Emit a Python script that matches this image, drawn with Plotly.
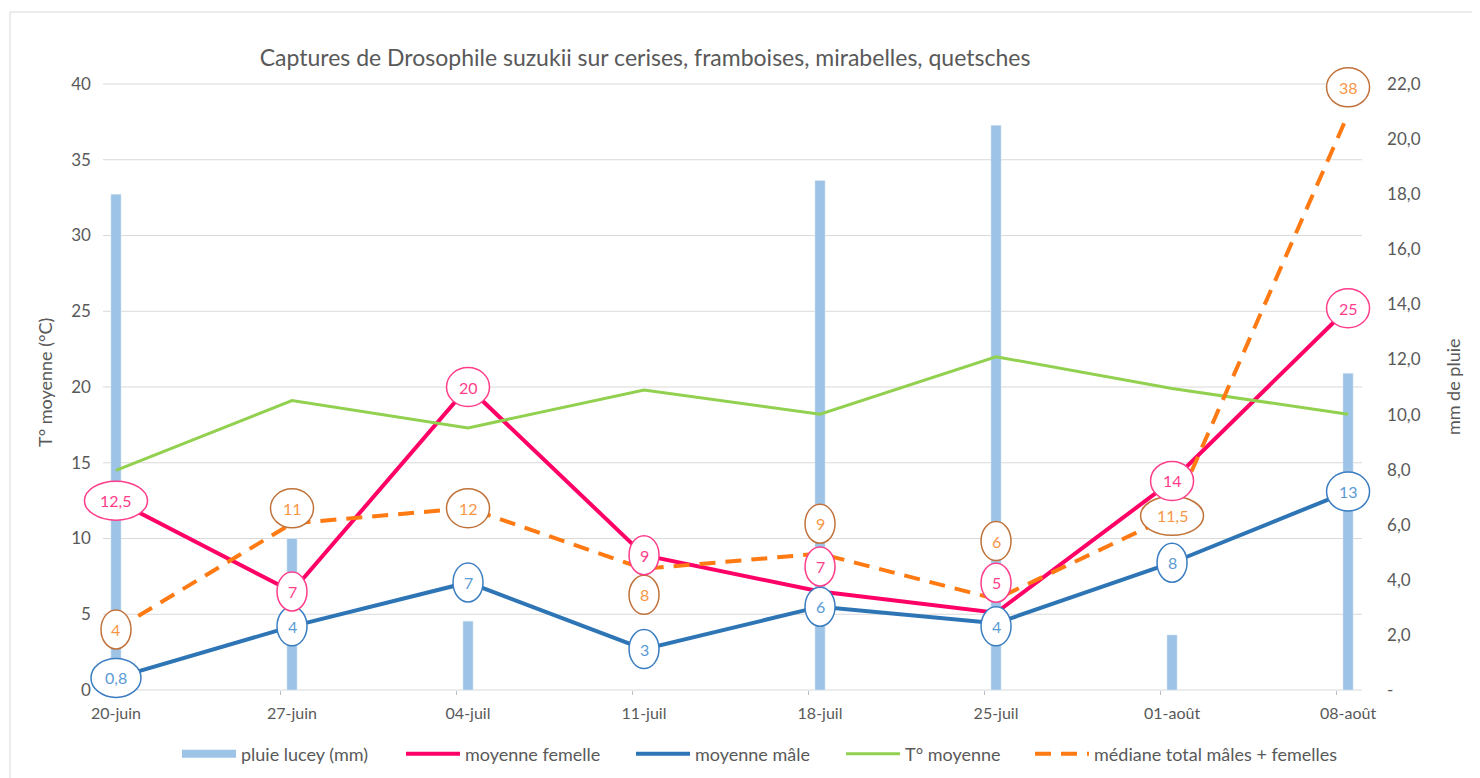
import plotly.graph_objects as go

# ---------------- data ----------------
dates = ["20-juin", "27-juin", "04-juil", "11-juil", "18-juil", "25-juil", "01-août", "08-août"]
pluie_mm = [18.0, 5.5, 2.5, 0.0, 18.5, 20.5, 2.0, 11.5]
moy_femelle = [12.5, 6.5, 20.0, 8.9, 6.5, 5.1, 13.8, 25.2]
moy_male = [0.8, 4.2, 7.1, 2.7, 5.5, 4.4, 8.4, 13.1]
temp_moy = [14.5, 19.1, 17.3, 19.8, 18.2, 22.0, 19.9, 18.2]
mediane = [4, 11, 12, 8, 9, 6, 11.5, 38]

lbl_femelle = ["12,5", "7", "20", "9", "7", "5", "14", "25"]
lbl_male = ["0,8", "4", "7", "3", "6", "4", "8", "13"]
lbl_mediane = ["4", "11", "12", "8", "9", "6", "11,5", "38"]

left_ticks = [0, 5, 10, 15, 20, 25, 30, 35, 40]
right_ticks = [0, 2, 4, 6, 8, 10, 12, 14, 16, 18, 20, 22]
right_ticktext = ["-" if v == 0 else f"{v:.1f}".replace(".", ",") for v in right_ticks]

# ---------------- styles / geometry ----------------
FONT = "Lato, 'Open Sans', sans-serif"
GREY = "#595959"
C_BAR = "#9DC3E6"
C_PINK = "#FF0066"
C_BLUE = "#2E75B6"
C_GREEN = "#92D050"
C_ORANGE = "#FF7A12"
C_GRID = "#D9D9D9"

# plot area enlarged so the label ellipses are not clipped;
# axes are placed at the visible frame positions
X_RANGE = [-0.2045, 7.136]
Y_LEFT_RANGE = [-0.66, 41.32]
Y_RIGHT_RANGE = [-0.363, 22.726]
FRAME_X0, FRAME_X1 = 0.0178, 0.9923
XAXIS_POS = 0.0157

# label offsets (pixels, positive = up)
off_femelle = [0, 0, 0, 0, 25, 30, 0, 0]
off_male = [0, 0, 0, 0, 0, -3, 0, 0]
off_mediane = [0, 15, 0, -26, 30, 58, 0, 27]
ell_width = {1: 30, 2: 43, 3: 50, 4: 63}
ELL_H = 39

x_idx = list(range(len(dates)))

fig = go.Figure()

fig.add_trace(go.Bar(
    x=x_idx, y=pluie_mm, name="pluie lucey (mm)", marker_color=C_BAR,
    width=0.058, yaxis="y", showlegend=False,
))
series = [
    ("pluie lucey (mm)", [None], dict(color=C_BAR, width=8), "legend"),
    ("moyenne femelle", moy_femelle, dict(color=C_PINK, width=4), "legend2"),
    ("moyenne mâle", moy_male, dict(color=C_BLUE, width=4), "legend3"),
    ("T° moyenne", temp_moy, dict(color=C_GREEN, width=3), "legend4"),
    ("médiane total mâles + femelles", mediane, dict(color=C_ORANGE, width=4, dash="16px,10px"), "legend5"),
]
for name, vals, line, leg in series:
    xs = x_idx if vals[0] is not None else [None]
    fig.add_trace(go.Scatter(x=xs, y=vals, name=name, mode="lines", line=line,
                             yaxis="y2", legend=leg))

shapes = []
annotations = []

# horizontal gridlines over the visible frame
for t in left_ticks:
    shapes.append(dict(type="line", xref="x domain", yref="y2", x0=FRAME_X0, x1=FRAME_X1,
                       y0=t, y1=t, line=dict(color=C_GRID, width=1), layer="below"))


def add_labels(values, labels, offsets, edge, txt):
    for i, (v, t, dy) in enumerate(zip(values, labels, offsets)):
        w = ell_width[len(t)]
        shapes.append(dict(
            type="circle", xref="x", yref="y2", xsizemode="pixel", ysizemode="pixel",
            xanchor=i, yanchor=v, x0=-w / 2, x1=w / 2,
            y0=dy - ELL_H / 2, y1=dy + ELL_H / 2,
            line=dict(color=edge, width=1.5), fillcolor="white", layer="above",
        ))
        annotations.append(dict(
            x=i, y=v, xref="x", yref="y2", text=t, showarrow=False, yshift=dy,
            font=dict(family=FONT, size=16, color=txt),
        ))


add_labels(mediane, lbl_mediane, off_mediane, "#C0723A", "#F79646")
add_labels(moy_male, lbl_male, off_male, "#3A7DC0", "#5B9BD5")
add_labels(moy_femelle, lbl_femelle, off_femelle, "#FF3D8B", "#FF3D8B")

# chart border
shapes.append(dict(type="rect", xref="paper", yref="paper", x0=-0.0542, x1=1.3,
                   y0=-0.3, y1=1.0818, line=dict(color=C_GRID, width=1),
                   fillcolor="rgba(0,0,0,0)", layer="below"))

# axis titles
annotations.append(dict(text="T° moyenne (°C)", xref="paper", yref="paper", x=-0.0271, y=0.50,
                        textangle=-90, showarrow=False, xanchor="center", yanchor="middle",
                        font=dict(family=FONT, size=18, color=GREY)))
annotations.append(dict(text="mm de pluie", xref="paper", yref="paper", x=1.0627, y=0.492,
                        textangle=-90, showarrow=False, xanchor="center", yanchor="middle",
                        font=dict(family=FONT, size=18, color=GREY)))

legend_x = [169, 393, 623, 833, 1022]
legend_common = dict(orientation="h", xref="container", yref="container", xanchor="left",
                     y=1 - 746 / 778, yanchor="middle", bgcolor="rgba(0,0,0,0)",
                     font=dict(family=FONT, size=18, color=GREY), itemwidth=54)
legends = {}
for k, lx in enumerate(legend_x):
    key = "legend" if k == 0 else f"legend{k + 1}"
    legends[key] = dict(legend_common, x=lx / 1480)

fig.update_layout(
    width=1480, height=778,
    margin=dict(l=72, r=116, t=56, b=86, autoexpand=False),
    paper_bgcolor="white", plot_bgcolor="rgba(0,0,0,0)",
    title=dict(text="Captures de Drosophile suzukii sur cerises, framboises, mirabelles, quetsches",
               x=637 / 1480, xref="container", xanchor="center",
               y=1 - 50 / 778, yref="container", yanchor="middle",
               font=dict(family=FONT, size=23, color=GREY)),
    xaxis=dict(
        range=X_RANGE, tickmode="array", tickvals=x_idx, ticktext=dates,
        showgrid=False, zeroline=False, showline=False, ticks="",
        anchor="free", position=XAXIS_POS, ticklabelstandoff=12,
        tickfont=dict(family=FONT, size=16, color=GREY),
        minor=dict(tickmode="array", tickvals=[i - 0.068 for i in x_idx], ticks="outside",
                   ticklen=4, tickcolor="#BFBFBF", showgrid=False),
    ),
    yaxis=dict(
        side="right", range=Y_RIGHT_RANGE, tickmode="array", tickvals=right_ticks,
        ticktext=right_ticktext, anchor="free", position=FRAME_X1,
        showgrid=False, zeroline=False, showline=False,
        tickfont=dict(family=FONT, size=17, color=GREY), ticklabelstandoff=24,
    ),
    yaxis2=dict(
        side="left", overlaying="y", range=Y_LEFT_RANGE, tickmode="array", tickvals=left_ticks,
        anchor="free", position=FRAME_X0,
        showgrid=False, zeroline=False, showline=False,
        tickfont=dict(family=FONT, size=17, color=GREY), ticklabelstandoff=12,
    ),
    shapes=shapes,
    annotations=annotations,
    **legends,
)

fig.write_html("out.html")
